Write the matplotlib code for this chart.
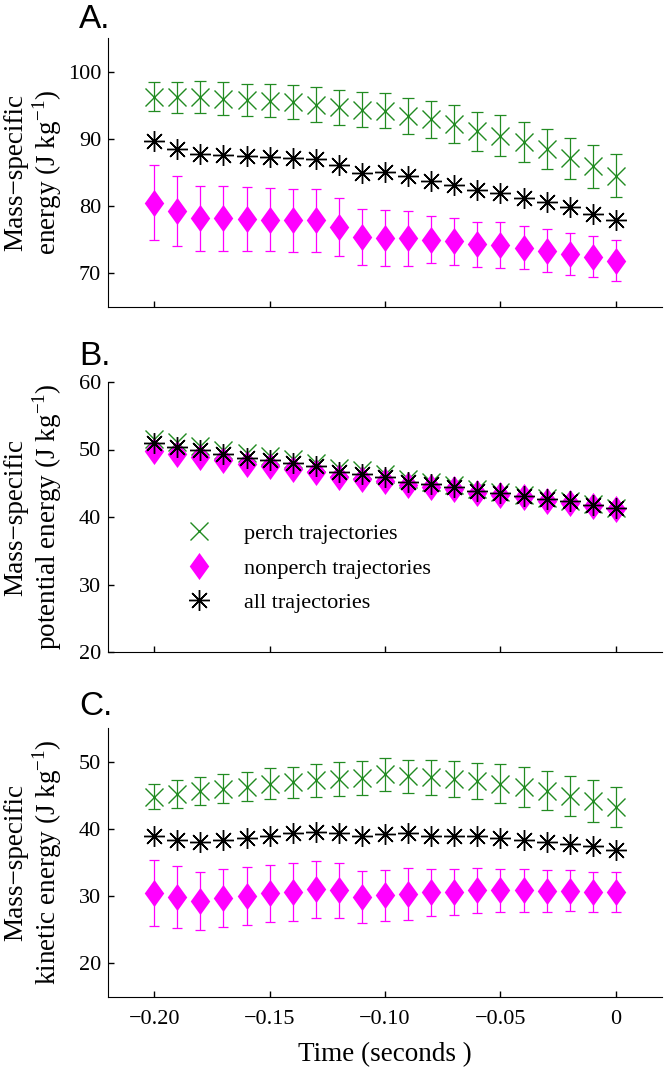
import matplotlib
matplotlib.use('Agg')
import matplotlib.pyplot as plt

# tiempo antes del aterrizaje (s)
tiempo = [-0.20, -0.19, -0.18, -0.17, -0.16, -0.15, -0.14, -0.13, -0.12, -0.11, -0.10,
          -0.09, -0.08, -0.07, -0.06, -0.05, -0.04, -0.03, -0.02, -0.01, 0.00]

# A. energia total
A_perch = [96.3, 96.2, 96.2, 96.0, 95.8, 95.7, 95.5, 95.1, 94.7, 94.3, 94.2,
           93.4, 92.9, 92.2, 91.1, 90.5, 89.5, 88.5, 87.1, 85.9, 84.5]
A_perch_err = [2.2, 2.3, 2.4, 2.4, 2.4, 2.5, 2.5, 2.6, 2.6, 2.6, 2.6,
               2.7, 2.7, 2.8, 2.9, 3.0, 3.0, 3.0, 3.1, 3.2, 3.2]
A_non = [80.5, 79.3, 78.2, 78.2, 78.1, 78.0, 77.9, 77.9, 76.9, 75.4, 75.3,
         75.2, 75.0, 74.8, 74.3, 74.2, 73.8, 73.4, 72.9, 72.5, 71.9]
A_non_err = [5.6, 5.2, 4.85, 4.8, 4.8, 4.7, 4.7, 4.7, 4.3, 4.2, 4.15,
             4.1, 3.5, 3.5, 3.4, 3.4, 3.2, 3.2, 3.1, 3.1, 3.05]
A_all = [89.75, 88.55, 87.76, 87.61, 87.51, 87.36, 87.21, 86.97, 86.1, 84.9, 85.1,
         84.5, 83.7, 83.2, 82.4, 82.0, 81.2, 80.6, 79.8, 78.9, 77.9]

# B. energia potencial
B_perch = [51.6, 51.1, 50.5, 50.0, 49.5, 49.0, 48.6, 48.0, 47.2, 46.9, 46.4,
           45.6, 45.2, 44.8, 44.1, 43.7, 43.3, 42.8, 42.4, 41.9, 41.4]
B_non = [49.8, 49.4, 48.9, 48.4, 47.9, 47.5, 47.1, 46.7, 46.0, 45.7, 45.4,
         44.7, 44.5, 44.1, 43.5, 43.2, 42.9, 42.4, 42.1, 41.7, 41.2]
B_all = [50.9, 50.4, 49.9, 49.4, 48.8, 48.4, 48.0, 47.5, 46.7, 46.4, 46.0,
         45.2, 44.9, 44.5, 43.85, 43.5, 43.1, 42.6, 42.3, 41.8, 41.3]

# C. energia cinetica
C_perch = [44.8, 45.2, 45.6, 46.0, 46.3, 46.7, 46.9, 47.2, 47.4, 47.6, 48.1,
           47.8, 47.7, 47.4, 47.1, 46.7, 46.2, 45.7, 44.9, 44.1, 43.3]
C_perch_err = [1.8, 2.1, 2.1, 2.2, 2.2, 2.3, 2.3, 2.4, 2.5, 2.5, 2.4,
               2.4, 2.6, 2.7, 2.7, 2.9, 3.0, 2.9, 3.0, 3.1, 3.0]
C_non = [30.4, 29.9, 29.3, 29.7, 30.0, 30.4, 30.6, 31.0, 30.9, 29.9, 30.1,
         30.3, 30.6, 30.6, 30.9, 30.9, 30.9, 30.8, 30.8, 30.6, 30.6]
C_non_err = [4.9, 4.6, 4.3, 4.35, 4.3, 4.3, 4.3, 4.2, 4.1, 3.9, 3.8,
             3.85, 3.5, 3.4, 3.35, 3.2, 3.2, 3.1, 3.05, 3.0, 3.0]
C_all = [38.9, 38.3, 38.0, 38.3, 38.6, 39.0, 39.4, 39.6, 39.4, 38.9, 39.3,
         39.4, 39.0, 38.9, 38.9, 38.6, 38.4, 38.1, 37.8, 37.4, 36.8]

xticks = [-0.20, -0.15, -0.10, -0.05, 0]
xticklabels = ['\u22120.20', '\u22120.15', '\u22120.10', '\u22120.05', '0']

verde = '#228b22'
magenta = '#ff00ff'
# rombo al estilo MATLAB (mas alto que ancho)
rombo = [(0, 1), (0.72, 0), (0, -1), (-0.72, 0), (0, 1)]

plt.rcParams['font.family'] = 'Liberation Serif'
plt.rcParams['mathtext.fontset'] = 'custom'
plt.rcParams['mathtext.rm'] = 'Liberation Serif'

W, H = 666, 1074
fig = plt.figure(figsize=(W / 100, H / 100), dpi=100)


def panel(top, bottom, letra_y, ylim, yticks, letra, ylab, perch, non, todos,
          perch_err=None, non_err=None, show_x=False):
    ax = fig.add_axes([108 / W, (H - bottom) / H, 554 / W, (bottom - top) / H])
    if perch_err is not None:
        ax.errorbar(tiempo, perch, yerr=perch_err, fmt='none', ecolor=verde,
                    elinewidth=0.9, capsize=4.5, capthick=0.9)
    l1, = ax.plot(tiempo, perch, 'x', color=verde, markersize=13, mew=1.0, linestyle='none',
                  label='perch trajectories')
    if non_err is not None:
        ax.errorbar(tiempo, non, yerr=non_err, fmt='none', ecolor=magenta,
                    elinewidth=0.9, capsize=3.8, capthick=0.9)
    l2, = ax.plot(tiempo, non, marker=rombo, color=magenta, markersize=19.5, mew=0,
                  linestyle='none', label='nonperch trajectories')
    l3, = ax.plot(tiempo, todos, marker=(8, 2, 0), color='black', markersize=15, mew=1.0,
                  linestyle='none', label='all trajectories')
    ax.plot(tiempo, todos, 'o', color='black', markersize=2.5, linestyle='none')

    ax.set_xlim(-0.22, 0.02)
    ax.set_ylim(*ylim)
    ax.set_yticks(yticks)
    ax.set_xticks(xticks)
    if show_x:
        ax.set_xticklabels(xticklabels)
    else:
        ax.set_xticklabels([])
    ax.spines['top'].set_visible(False)
    ax.spines['right'].set_visible(False)
    ax.tick_params(direction='in', length=4, width=1, labelsize=16, pad=5)
    ax.tick_params(axis='x', pad=9)
    ax.set_ylabel(ylab, fontsize=19.5, va='center', linespacing=1.05)
    ax.yaxis.set_label_coords(-0.134, 0.5)
    fig.text(79 / W, 1 - letra_y / H, letra, family='Liberation Sans', fontsize=24,
             va='baseline', ha='left')
    return ax, (l1, l2, l3)


panel(38, 307, 28, (65, 105), [70, 80, 90, 100], 'A.',
      'Mass\u2212specific\nenergy (J kg$^{\\mathregular{-1}}$)',
      A_perch, A_non, A_all, A_perch_err, A_non_err)

axB, lineas = panel(382, 652, 365, (20, 60), [20, 30, 40, 50, 60], 'B.',
                    'Mass\u2212specific\npotential energy (J kg$^{\\mathregular{-1}}$)',
                    B_perch, B_non, B_all)
axB.legend(handles=lineas, loc='center left', bbox_to_anchor=(0.14, 0.31),
           frameon=False, fontsize=16, borderpad=0, borderaxespad=0,
           handlelength=1.2, handletextpad=1.45, labelspacing=0.62)

axC, _ = panel(728, 997, 715, (15, 55), [20, 30, 40, 50], 'C.',
               'Mass\u2212specific\nkinetic energy (J kg$^{\\mathregular{-1}}$)',
               C_perch, C_non, C_all, C_perch_err, C_non_err, show_x=True)
axC.set_xlabel('Time (seconds )', fontsize=19.5, labelpad=10)

fig.savefig('out.png', dpi=100)
